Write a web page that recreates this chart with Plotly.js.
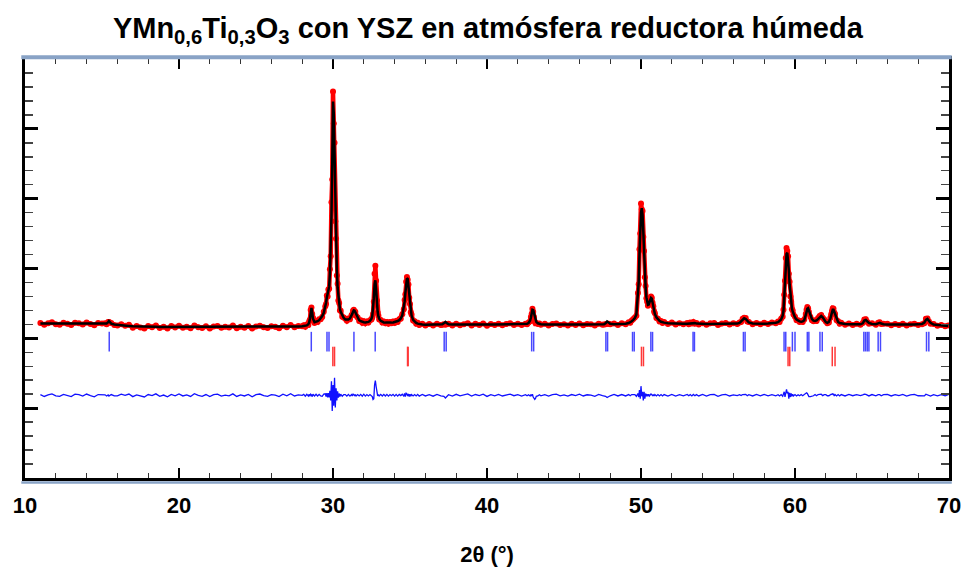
<!DOCTYPE html>
<html><head><meta charset="utf-8">
<script src="https://cdn.plot.ly/plotly-3.0.1.min.js"></script>
<style>html,body{margin:0;padding:0;background:#fff}#chart{width:966px;height:574px}</style>
</head><body><div id="chart"></div>
<script>
// 2theta sampling positions (degrees)
const tt = [
 11, 11.25, 11.5, 11.75, 12, 12.25, 12.5, 12.75, 13, 13.25, 13.5, 13.75, 14, 14.25, 14.5, 14.75, 15,
 15.2, 15.3, 15.4, 15.45, 15.5, 15.6, 15.8,
 16, 16.25, 16.5, 16.75, 17, 17.25, 17.5,
 17.75, 18, 18.25, 18.5, 18.75, 19, 19.25,
 19.5, 19.75, 20, 20.25, 20.5, 20.75, 21,
 21.25, 21.5, 21.75, 22, 22.25, 22.5, 22.75,
 23, 23.25, 23.5, 23.75, 24, 24.25, 24.5,
 24.75, 25, 25.25, 25.5, 25.75, 26, 26.25,
 26.5, 26.75, 27, 27.25, 27.5, 27.75, 28,
 28.1, 28.2, 28.3, 28.4, 28.45, 28.5, 28.55, 28.6, 28.65, 28.7,
 28.8, 28.9, 29.0, 29.1, 29.2, 29.3, 29.4, 29.5, 29.55, 29.6,
 29.65, 29.7, 29.75, 29.8, 29.85, 29.9, 29.95, 30.0, 30.05, 30.1,
 30.15, 30.2, 30.25, 30.3, 30.35, 30.4, 30.45, 30.5, 30.6, 30.7,
 30.8, 30.9, 31.0, 31.1, 31.2, 31.25, 31.3, 31.35, 31.4, 31.45,
 31.5, 31.6, 31.7, 31.8, 31.9, 32.0, 32.1, 32.2, 32.3, 32.4,
 32.5, 32.55, 32.6, 32.65, 32.7, 32.75, 32.8, 32.85, 32.9, 32.95,
 33.0, 33.1, 33.2, 33.3, 33.4, 33.5, 33.6, 33.7, 33.8, 33.9,
 34.0, 34.1, 34.2, 34.3, 34.4, 34.5, 34.6, 34.65, 34.7, 34.75,
 34.8, 34.85, 34.9, 34.95, 35.0, 35.05, 35.1, 35.2, 35.3, 35.4,
 35.5, 35.6, 35.8, 36.0,
 36.25, 36.5, 36.75, 37.0, 37.1, 37.2, 37.3, 37.4, 37.5, 37.75,
 38.0, 38.25, 38.5, 38.75, 39.0, 39.25, 39.5, 39.75, 40.0, 40.25,
 40.5, 40.75, 41.0, 41.25, 41.5, 41.75, 42.0, 42.25, 42.5, 42.6,
 42.7, 42.8, 42.85, 42.9, 42.95, 43.0, 43.05, 43.1, 43.15, 43.2,
 43.3, 43.4, 43.5, 43.75, 44.0, 44.25, 44.5, 44.75, 45.0, 45.25,
 45.5, 45.75, 46.0, 46.25, 46.5, 46.75, 47.0, 47.25, 47.5, 47.6,
 47.7, 47.8, 47.9, 48.0, 48.25, 48.5, 48.75, 49.0, 49.2, 49.3,
 49.4, 49.5, 49.6, 49.7, 49.8, 49.85, 49.9, 49.95, 50.0, 50.05,
 50.1, 50.15, 50.2, 50.25, 50.3, 50.35, 50.4, 50.45, 50.5, 50.55,
 50.6, 50.65, 50.7, 50.75, 50.8, 50.85, 50.9, 51.0, 51.1, 51.2,
 51.3, 51.4, 51.5, 51.75, 52.0, 52.25, 52.5, 52.75, 53.0, 53.1,
 53.2, 53.3, 53.4, 53.5, 53.6, 53.75, 54.0, 54.25, 54.5, 54.75,
 55.0, 55.25, 55.5, 55.75, 56.0, 56.25, 56.4, 56.5, 56.6, 56.7,
 56.8, 56.9, 57.0, 57.25, 57.5, 57.75, 58.0, 58.25, 58.5, 58.75,
 58.9, 59.0, 59.1, 59.2, 59.25, 59.3, 59.35, 59.4, 59.45, 59.5,
 59.55, 59.6, 59.65, 59.7, 59.75, 59.8, 59.85, 59.9, 60.0, 60.1,
 60.2, 60.3, 60.4, 60.5, 60.6, 60.7, 60.75, 60.8, 60.85, 60.9,
 61.0, 61.1, 61.2, 61.3, 61.4, 61.5, 61.6, 61.7, 61.8, 61.9,
 62.0, 62.1, 62.2, 62.3, 62.35, 62.4, 62.45, 62.5, 62.55, 62.6,
 62.7, 62.8, 62.9, 63.0, 63.25, 63.5, 63.75, 64.0, 64.25, 64.4,
 64.5, 64.6, 64.7, 64.8, 65.0, 65.25, 65.4, 65.5, 65.6, 65.75,
 66.0, 66.25, 66.5, 66.75, 67.0, 67.25, 67.5, 67.75, 68.0, 68.25,
 68.4, 68.5, 68.6, 68.7, 68.8, 69.0, 69.25, 69.5, 69.75, 69.95
];

const yObs = [
 442, 387, 431, 461, 406, 390, 445, 420, 380, 449, 434, 394, 453, 408, 373, 437, 422,
 430, 405, 470, 470, 455, 440, 380,
 365, 405, 360, 390, 306, 350, 311,
 283, 351, 320, 369, 298, 333, 282,
 352, 311, 361, 306, 335, 290, 370,
 320, 295, 345, 285, 340, 355, 300,
 330, 310, 365, 290, 335, 305, 351,
 281, 341, 362, 317, 298, 348, 334,
 290, 361, 318, 380, 318, 352, 343,
 375, 330, 395, 380, 480, 530, 810, 880, 700, 590,
 440, 500, 470, 545, 550, 610, 760, 920, 980, 1230,
 1200, 1400, 1420, 1980, 2350, 3900, 4550, 7070, 6150, 5600,
 3350, 2850, 1800, 1560, 1080, 1010, 800, 790, 620, 600,
 560, 505, 565, 545, 660, 680, 790, 820, 770, 760,
 650, 600, 500, 515, 445, 490, 430, 480, 450, 520,
 540, 600, 700, 1050, 1850, 2080, 1650, 1080, 740, 650,
 540, 525, 450, 480, 430, 470, 420, 465, 435, 480,
 440, 500, 470, 545, 560, 690, 830, 1100, 1260, 1620,
 1760, 1680, 1540, 1160, 980, 750, 680, 510, 490, 420,
 445, 380, 420, 370,
 410, 365, 415, 380, 390, 400, 390, 410, 420, 370,
 420, 375, 405, 430, 370, 415, 385, 425, 360, 410,
 380, 420, 375, 410, 430, 385, 415, 380, 420, 400,
 455, 490, 610, 700, 850, 760, 610, 480, 430, 440,
 410, 425, 390, 415, 370, 410, 425, 380, 405, 370,
 415, 385, 425, 375, 410, 400, 365, 420, 390, 395,
 400, 420, 420, 400, 425, 385, 430, 400, 460, 445,
 510, 555, 600, 650, 1300, 1550, 2550, 3000, 3860, 3700,
 3650, 2900, 2500, 1750, 1500, 1150, 1050, 930, 1000, 1010,
 1130, 1200, 1160, 1020, 920, 770, 720, 580, 560, 480,
 495, 440, 470, 410, 450, 395, 435, 400, 440, 405,
 450, 425, 470, 420, 440, 395, 435, 390, 430, 440,
 385, 425, 440, 395, 430, 410, 455, 470, 560, 590,
 580, 480, 470, 405, 440, 400, 445, 410, 450, 430,
 480, 470, 560, 620, 820, 1250, 1650, 2300, 2590, 2500,
 2350, 1850, 1620, 1200, 1050, 830, 800, 680, 620, 520,
 520, 470, 495, 470, 540, 700, 820, 900, 860, 760,
 610, 520, 490, 515, 495, 580, 640, 670, 590, 540,
 480, 430, 455, 590, 690, 780, 860, 850, 740, 700,
 520, 490, 420, 445, 390, 425, 385, 415, 390, 440,
 540, 550, 470, 420, 430, 390, 445, 460, 410, 420,
 420, 375, 410, 380, 415, 370, 405, 420, 385, 400,
 430, 560, 570, 480, 420, 410, 360, 385, 345, 370
];

// calculated (refined) profile
const yCalc = [
 422, 422, 421, 421, 421, 420, 420, 420, 420, 419, 419, 419, 418, 418, 418, 417, 417,
 418, 425, 460, 495, 470, 420, 398,
 385, 375, 365, 355, 346, 340, 336,
 333, 331, 330, 329, 328, 328, 327,
 327, 326, 326, 326, 325, 325, 325,
 325, 325, 325, 325, 325, 325, 325,
 325, 325, 325, 325, 325, 325, 326,
 326, 326, 327, 327, 328, 328, 329,
 330, 331, 333, 335, 338, 342, 348,
 352, 358, 370, 405, 450, 560, 780, 870, 740, 560,
 460, 470, 490, 520, 570, 640, 730, 880, 1020, 1170,
 1260, 1340, 1480, 1850, 2500, 3500, 5000, 6780, 6450, 5100,
 3700, 2650, 1950, 1450, 1150, 960, 840, 760, 650, 580,
 540, 530, 540, 570, 640, 700, 760, 800, 790, 740,
 670, 580, 520, 490, 470, 460, 455, 460, 470, 500,
 560, 640, 820, 1150, 1550, 1660, 1400, 1000, 760, 630,
 560, 500, 470, 455, 450, 445, 445, 445, 450, 455,
 465, 475, 495, 520, 570, 660, 860, 1050, 1300, 1560,
 1720, 1700, 1500, 1200, 950, 780, 660, 530, 470, 440,
 420, 405, 395, 390,
 392, 392, 393, 398, 405, 430, 470, 430, 405, 395,
 393, 393, 393, 393, 393, 394, 394, 394, 394, 395,
 395, 395, 396, 396, 397, 398, 400, 402, 405, 415,
 440, 510, 590, 720, 820, 810, 720, 600, 520, 470,
 430, 412, 405, 398, 395, 395, 395, 395, 395, 395,
 395, 395, 395, 396, 396, 396, 397, 398, 400, 405,
 430, 485, 450, 415, 402, 405, 410, 420, 440, 460,
 490, 530, 580, 680, 1250, 1600, 2400, 3100, 3600, 3730,
 3550, 3050, 2400, 1850, 1450, 1180, 1020, 960, 970, 1030,
 1110, 1160, 1140, 1040, 900, 790, 700, 600, 540, 500,
 475, 460, 450, 435, 425, 420, 418, 416, 416, 420,
 432, 445, 448, 435, 422, 416, 414, 414, 414, 414,
 414, 414, 415, 416, 418, 422, 440, 480, 540, 575,
 555, 495, 455, 425, 418, 418, 420, 425, 432, 445,
 465, 490, 540, 650, 790, 1150, 1700, 2150, 2420, 2450,
 2250, 1950, 1550, 1250, 1000, 860, 770, 700, 600, 540,
 505, 485, 475, 485, 520, 640, 750, 850, 865, 800,
 650, 550, 505, 495, 510, 560, 620, 640, 600, 525,
 465, 445, 470, 570, 660, 760, 820, 820, 760, 680,
 540, 470, 440, 425, 410, 402, 398, 398, 402, 430,
 510, 525, 480, 440, 410, 405, 430, 445, 425, 405,
 398, 395, 393, 392, 392, 392, 393, 395, 400, 412,
 450, 530, 555, 500, 445, 395, 378, 368, 360, 355
];

// Bragg reflection positions (2theta)
const braggYMTO = [15.47, 28.59, 29.61, 29.74, 31.36, 32.74, 37.22, 37.35, 42.9, 43.03,
 47.72, 47.83, 49.45, 49.56, 50.64, 50.75, 53.38, 53.47, 56.65, 56.76, 59.29, 59.4,
 59.83, 60.0, 60.8, 60.9, 61.62, 61.77, 64.47, 64.58, 64.69, 64.8, 65.4, 65.55, 68.54, 68.69];
const braggYSZ = [29.99, 30.1, 34.84, 34.88, 50.03, 50.16, 59.55, 59.66, 62.42, 62.6];

const xTickVals = [10, 20, 30, 40, 50, 60, 70];
const xTickText = ['10', '20', '30', '40', '50', '60', '70'];

if (tt.length !== yObs.length || tt.length !== yCalc.length) {
  console.error('length mismatch', tt.length, yObs.length, yCalc.length);
}

const diffOffset = -1630;
const yDiff = yObs.map((v, i) => v - yCalc[i] + diffOffset);
const levelBlue = -95;
const levelRed = -520;

const FN = "'Liberation Sans Narrow', 'Arial Narrow', 'Liberation Sans', Arial, sans-serif";

const traces = [
  { x: tt, y: yObs, type: 'scatter', mode: 'lines', name: 'Yobs band',
    line: { color: '#ff0000', width: 4.5 }, hoverinfo: 'skip' },
  { x: tt, y: yObs, type: 'scatter', mode: 'markers', name: 'Yobs',
    marker: { color: '#ff0000', size: 6, symbol: 'circle' }, hoverinfo: 'skip' },
  { x: tt, y: yCalc, type: 'scatter', mode: 'lines', name: 'Ycalc',
    line: { color: '#000000', width: 2.5 } },
  { x: tt, y: yDiff, type: 'scatter', mode: 'lines', name: 'Yobs-Ycalc',
    line: { color: '#1010ff', width: 1.3 } },
  { x: braggYMTO, y: braggYMTO.map(() => levelBlue), type: 'scatter', mode: 'markers',
    name: 'YMn0.6Ti0.3O3', marker: { symbol: 'line-ns', size: 14, line: { width: 1.5, color: '#4848ff' } } },
  { x: braggYSZ, y: braggYSZ.map(() => levelRed), type: 'scatter', mode: 'markers',
    name: 'YSZ', marker: { symbol: 'line-ns', size: 14, line: { width: 1.5, color: '#ff3838' } } }
];

const layout = {
  width: 966, height: 574,
  paper_bgcolor: '#ffffff', plot_bgcolor: '#ffffff',
  margin: { l: 25, r: 17, t: 59, b: 96 },
  showlegend: false,
  title: {
    text: 'YMn<sub>0,6</sub>Ti<sub>0,3</sub>O<sub>3</sub> con YSZ en atmósfera reductora húmeda',
    font: { family: FN, size: 29, color: '#000', weight: 'bold' },
    x: 0.505, xref: 'container', xanchor: 'center',
    y: 0.952, yref: 'container', yanchor: 'middle'
  },
  xaxis: {
    range: [10, 70], tickvals: xTickVals, ticktext: xTickText,
    ticks: 'inside', ticklen: 10, tickwidth: 2, tickcolor: '#000',
    showline: true, linewidth: 3, linecolor: '#000', mirror: 'allticks',
    showgrid: false, zeroline: false, ticklabelstandoff: 6,
    tickfont: { family: FN, size: 22, color: '#000', weight: 'bold' },
    minor: { dtick: 2, tick0: 10, ticks: 'inside', ticklen: 5, tickwidth: 1, tickcolor: '#333' },
    title: { text: '2θ (°)', font: { family: FN, size: 22, color: '#000', weight: 'bold' }, standoff: 30 }
  },
  yaxis: {
    range: [-4000, 8000], dtick: 2000, tick0: 0, showticklabels: false,
    ticks: 'inside', ticklen: 13, tickwidth: 3, tickcolor: '#000',
    showline: true, linewidth: 3, linecolor: '#000', mirror: 'allticks',
    showgrid: false, zeroline: false,
    minor: { dtick: 400, ticks: 'inside', ticklen: 8, tickwidth: 1.5, tickcolor: '#444' }
  },
  shapes: [
    { type: 'line', xref: 'paper', yref: 'paper', x0: -0.004, x1: 1.003, y0: 1.004, y1: 1.004,
      line: { color: '#89a3c6', width: 4 }, layer: 'above' },
    { type: 'line', xref: 'paper', yref: 'paper', x0: -0.004, x1: 1.003, y0: -0.011, y1: -0.011,
      line: { color: '#89a3c6', width: 2.5 }, layer: 'above' }
  ]
};

Plotly.newPlot('chart', traces, layout, { displayModeBar: false, staticPlot: true });
</script></body></html>
